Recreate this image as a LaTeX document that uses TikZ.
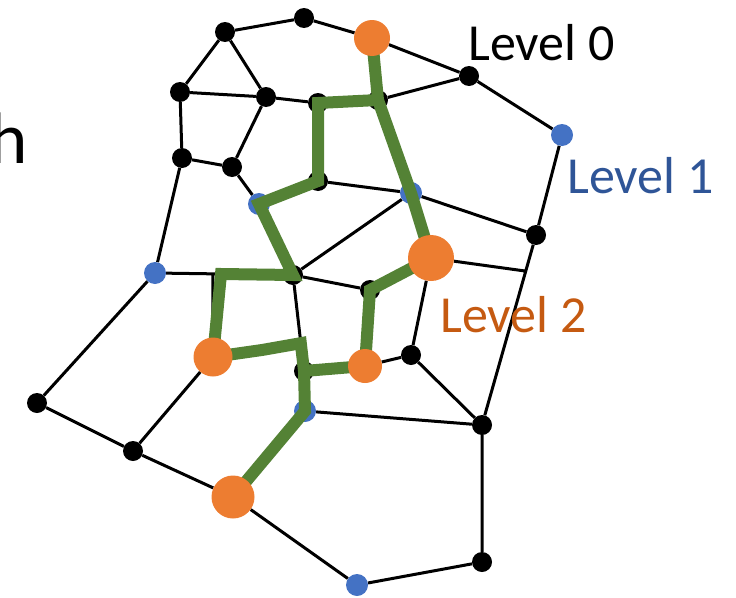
\documentclass[tikz,border=0pt]{standalone}
\usepackage{fontspec}
\setmainfont{Carlito}
\usetikzlibrary{calc}
\definecolor{dotblue}{HTML}{4472C4}
\definecolor{dotorange}{HTML}{ED7D31}
\definecolor{pathgreen}{HTML}{548235}
\definecolor{textblue}{HTML}{2F5597}
\definecolor{textorange}{HTML}{C55A11}
\pgfdeclarelayer{bg}
\pgfdeclarelayer{fg}
\pgfsetlayers{bg,main,fg}
\begin{document}
\begin{tikzpicture}[x=1pt,y=-1pt,
  vtx/.style={circle,fill=black,inner sep=0pt,minimum size=20pt},
  lvone/.style={circle,fill=dotblue,inner sep=0pt,minimum size=22pt},
  lvtwo/.style={circle,fill=dotorange,inner sep=0pt,minimum size=#1},
  edge/.style={draw=black,line width=3pt},
  route/.style={draw=pathgreen,line width=12pt,line join=miter},
  lbl/.style={anchor=base west,inner sep=0pt,font=\fontsize{52}{60}\selectfont}]
\useasboundingbox (0,0) rectangle (736,597);

% tail of the heading word, cut by the left edge
\node[anchor=base west,inner sep=0pt,font=\fontsize{73}{80}\selectfont] (head) at (-11,163) {h};

% level 0 vertices
\node[vtx] (A) at (225,32) {};
\node[vtx] (B) at (304,18) {};
\node[vtx] (C) at (180,92) {};
\node[vtx] (D) at (266,97) {};
\node[vtx] (E) at (182,158) {};
\node[vtx] (F) at (232,167) {};
\node[vtx] (I) at (318,103) {};
\node[vtx] (J) at (318,181) {};
\node[vtx] (K) at (378,100) {};
\node[vtx] (L) at (469,76) {};
\node[vtx] (P) at (536,235) {};
\node[vtx] (Q) at (293,275) {};
\node[vtx] (R) at (370,290) {};
\node[vtx] (S) at (411,355) {};
\node[vtx] (T) at (304,371) {};
\node[vtx] (V) at (37,403) {};
\node[vtx] (W) at (133,451) {};
\node[vtx] (Y) at (482,425) {};
\node[vtx] (Z) at (482,562) {};

% level 1 vertices
\node[lvone] (G) at (259,204) {};
\node[lvone] (H) at (155,273) {};
\node[lvone] (M) at (562,135) {};
\node[lvone] (N) at (411,193) {};
\node[lvone] (U) at (305,411) {};
\node[lvone] (X) at (357,585) {};

% level 2 vertices
\begin{pgfonlayer}{fg}
\node[lvtwo=36pt] (O1) at (372,38) {};
\node[lvtwo=46pt] (O2) at (431,258) {};
\node[lvtwo=39pt] (O3) at (213,357) {};
\node[lvtwo=34pt] (O4) at (365,366) {};
\node[lvtwo=43pt] (O5) at (233,497) {};
\end{pgfonlayer}

% points where edges meet other edges
\coordinate (c1) at ($(H)!0.42!(Q)$);
\coordinate (c2) at ($(P)!0.19!(Y)$);
\coordinate (c3) at ($(Q)!0.71!(T)$);
\coordinate (g1) at (221,274);
\coordinate (g2) at (262,350);

% graph edges
\begin{pgfonlayer}{bg}
\path[edge]
  (A) -- (B)  (B) -- (O1)  (A) -- (C)  (A) -- (D)  (C) -- (D)
  (C) -- (E)  (D) -- (F)  (E) -- (F)  (D) -- (I)  (I) -- (K)
  (K) -- (O1) (O1) -- (L) (K) -- (L)  (L) -- (M)  (M) -- (P)
  (K) -- (N)  (N) -- (O2) (E) -- (H)  (F) -- (G)  (G) -- (J)
  (I) -- (J)  (G) -- (Q)  (J) -- (N)  (N) -- (P)  (Q) -- (N)
  (Q) -- (R)  (R) -- (O2) (Q) -- (T)  (H) -- (Q)  (O3) -- (c1)
  (H) -- (V)  (V) -- (W)  (W) -- (O3) (W) -- (O5) (O5) -- (X)
  (X) -- (Z)  (Z) -- (Y)  (Y) -- (U)  (Y) -- (S)  (S) -- (O4)
  (S) -- (O2) (P) -- (Y)  (O2) -- (c2) (T) -- (O4) (T) -- (U)
  (U) -- (O5) (O3) -- (c3);
\end{pgfonlayer}

% connecting route through the level 2 vertices
\path[route] (O1.center) -- (K.center) -- (N.center) -- (O2.center);
\path[route] (K.center) -- (I.center) -- (J.center) -- (G.center) -- (Q.center) -- (g1) -- (O3.center);
\path[route] (O3.center) -- (g2) -- (c3) -- (T.center) -- (O4.center);
\path[route] (T.center) -- (U.center) -- (O5.center);
\path[route] (O4.center) -- (R.center) -- (O2.center);

% level captions
\node[lbl] (t0) at (468,60) {Level 0};
\node[lbl,text=textblue] (t1) at (567,193) {Level 1};
\node[lbl,text=textorange] (t2) at (440,332) {Level 2};
\end{tikzpicture}
\end{document}
